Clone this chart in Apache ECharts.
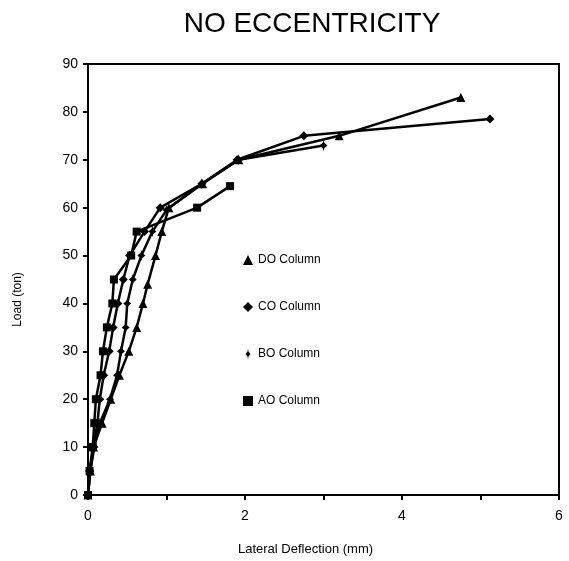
<!DOCTYPE html>
<html>
<head>
<meta charset="utf-8">
<script src="https://cdn.jsdelivr.net/npm/echarts@6/dist/echarts.min.js"></script>
<style>
  html, body { margin: 0; padding: 0; background: #fff; }
  #main { width: 569px; height: 561px; }
</style>
</head>
<body>
<div id="main"></div>
<script>
// lateral deflection (mm), load (ton)
var doData = [[0,0],[0.03,5],[0.07,10],[0.18,15],[0.29,20],[0.4,25],[0.52,30],[0.62,35],[0.7,40],[0.76,44],[0.86,50],[0.94,55],[1.03,60],[1.46,65],[1.92,70],[3.2,75],[4.75,83]];
var coData = [[0,0],[0.02,5],[0.07,10],[0.12,15],[0.15,20],[0.2,25],[0.27,30],[0.32,35],[0.38,40],[0.45,45],[0.53,50],[0.72,55],[0.92,60],[1.45,65],[1.9,70],[2.75,75],[5.12,78.5]];
var boData = [[0,0],[0.03,5],[0.08,10],[0.15,15],[0.28,20],[0.37,25],[0.42,30],[0.48,35],[0.5,40],[0.57,45],[0.68,50],[0.82,55],[1.0,59.5],[1.45,65],[1.92,70],[3.0,73]];
var aoData = [[0,0],[0.02,5],[0.06,10],[0.08,15],[0.1,20],[0.16,25],[0.19,30],[0.24,35],[0.31,40],[0.33,45],[0.55,50],[0.62,55],[1.39,60],[1.81,64.5]];
var seriesNames = ['DO Column', 'CO Column', 'BO Column', 'AO Column'];
var xTicks = [0, 2, 4, 6];

// diamond with a vertical stroke through it, for the BO marker
var plusDiamond = 'path://M5,0 L5.6,3 L8,6 L5.6,9 L5,12 L4.4,9 L2,6 L4.4,3 Z';

var chart = echarts.init(document.getElementById('main'));

function mkSeries(name, data, symbol, size) {
  return {
    name: name,
    type: 'line',
    data: data,
    symbol: symbol,
    symbolSize: size,
    showAllSymbol: true,
    lineStyle: { color: '#000', width: 2.5 },
    itemStyle: { color: '#000' },
    emphasis: { disabled: true }
  };
}

var option = {
  animation: false,
  backgroundColor: '#fff',
  textStyle: { fontFamily: 'Liberation Sans, Arial, sans-serif', color: '#000' },
  title: {
    text: 'NO ECCENTRICITY',
    left: 307,
    textAlign: 'center',
    top: 5,
    textStyle: { fontSize: 28, fontWeight: 'normal', color: '#000', fontFamily: 'Liberation Sans, Arial, sans-serif' }
  },
  legend: {
    orient: 'vertical',
    left: 238,
    top: 249,
    itemGap: 35,
    itemWidth: 10,
    itemHeight: 10,
    textStyle: { fontSize: 12, color: '#000' },
    data: [
      { name: seriesNames[0], icon: 'triangle' },
      { name: seriesNames[1], icon: 'diamond' },
      { name: seriesNames[2], icon: plusDiamond },
      { name: seriesNames[3], icon: 'rect' }
    ]
  },
  grid: {
    left: 88, right: 10, top: 64, bottom: 65,
    show: true, borderColor: '#000', borderWidth: 2
  },
  xAxis: {
    type: 'value',
    min: 0, max: 6, interval: 1,
    name: 'Lateral Deflection (mm)',
    nameLocation: 'middle',
    nameGap: 48,
    nameTextStyle: { fontSize: 13, color: '#000', padding: [0, 36, 0, 0] },
    axisLine: { show: true, lineStyle: { color: '#000', width: 2 } },
    axisTick: { show: true, length: 5, lineStyle: { color: '#000', width: 2 } },
    axisLabel: {
      fontSize: 14, color: '#000', margin: 14,
      formatter: function (v) { return xTicks.indexOf(v) >= 0 ? String(v) : ''; }
    },
    splitLine: { show: false }
  },
  yAxis: {
    type: 'value',
    min: 0, max: 90, interval: 10,
    name: 'Load (ton)',
    nameLocation: 'middle',
    nameGap: 64,
    nameRotate: 90,
    nameTextStyle: { fontSize: 12, color: '#000', padding: [0, 0, 0, -40] },
    axisLine: { show: true, lineStyle: { color: '#000', width: 2 } },
    axisTick: { show: true, length: 5, lineStyle: { color: '#000', width: 2 } },
    axisLabel: { fontSize: 14, color: '#000', margin: 10 },
    splitLine: { show: false }
  },
  series: [
    mkSeries(seriesNames[0], doData, 'triangle', 9),
    mkSeries(seriesNames[1], coData, 'diamond', 9),
    mkSeries(seriesNames[2], boData, plusDiamond, [8, 11]),
    mkSeries(seriesNames[3], aoData, 'rect', 8)
  ]
};

chart.setOption(option);
</script>
</body>
</html>
